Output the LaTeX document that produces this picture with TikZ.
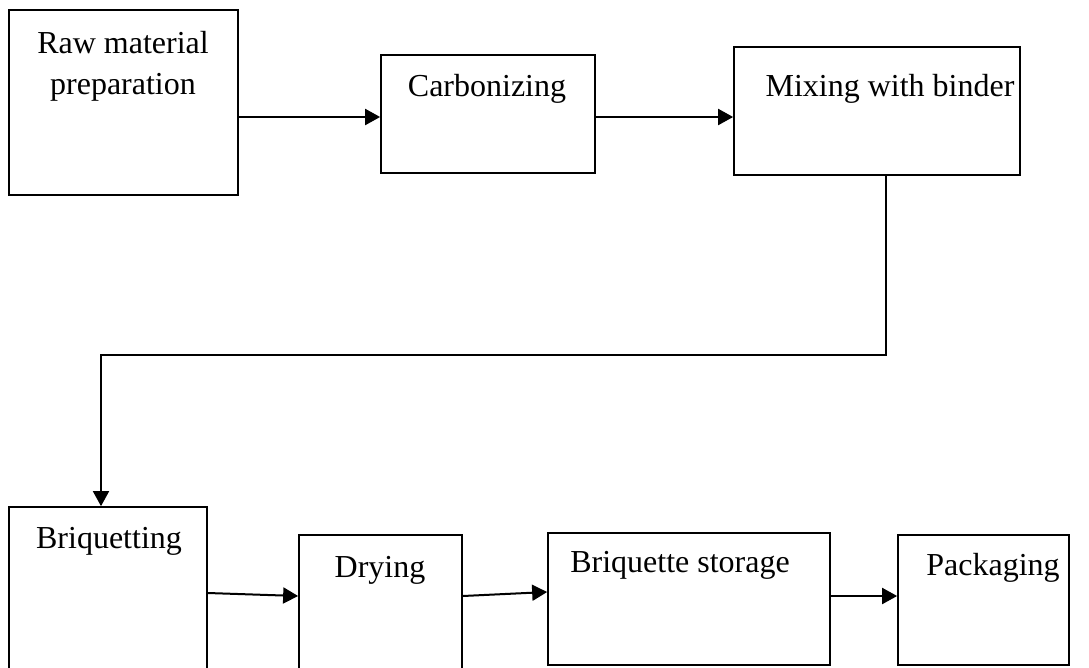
\documentclass[tikz,border=0pt]{standalone}
\usepackage{fontspec}
\setmainfont{Liberation Serif}
\usetikzlibrary{arrows.meta}
\begin{document}
\begin{tikzpicture}[x=1pt,y=-1pt,
  box/.style={draw,line width=1.7pt,inner sep=0pt},
  lbl/.style={inner sep=0pt,font=\fontsize{32}{41}\selectfont},
  flow/.style={line width=2pt,-{Triangle[length=15pt,width=16pt]}}]
\useasboundingbox (0,0) rectangle (1089,667);
\clip (0,0) rectangle (1089,667);
% boxes
\node[box,minimum width=229pt,minimum height=185pt] (raw) at (123.5,102.5) {};
\node[box,minimum width=214pt,minimum height=118pt] (carb) at (488,114) {};
\node[box,minimum width=286pt,minimum height=128pt] (mix) at (877,111) {};
\node[box,minimum width=198pt,minimum height=183pt] (briq) at (108,598.5) {};
\node[box,minimum width=163pt,minimum height=155pt] (dry) at (380.5,612.5) {};
\node[box,minimum width=282pt,minimum height=132pt] (stor) at (689,599) {};
\node[box,minimum width=171pt,minimum height=130pt] (pack) at (983.5,600) {};
% texts
\node[lbl,align=center,anchor=north] (rawt) at (123,31) {Raw material\\preparation};
\node[lbl,anchor=base] (carbt) at (487,96) {Carbonizing};
\node[lbl,anchor=base] (mixt) at (890,96) {Mixing with binder};
\node[lbl,anchor=base] (briqt) at (109,548) {Briquetting};
\node[lbl,anchor=base] (dryt) at (380,577) {Drying};
\node[lbl,anchor=base] (stort) at (680,572) {Briquette storage};
\node[lbl,anchor=base] (packt) at (993,575) {Packaging};
% helper coordinates
\coordinate (r1) at (0,117);
\coordinate (mx) at (886,0);
\coordinate (turn) at (0,355);
\coordinate (bx) at (101,0);
\coordinate (a1) at (0,593);
\coordinate (a2) at (0,596);
\coordinate (a3) at (0,592);
% connectors
\draw[flow] (raw.east |- r1) -- (carb.west |- r1);
\draw[flow] (carb.east |- r1) -- (mix.west |- r1);
\draw[flow,line width=1.7pt] (mix.south -| mx) -- (mx |- turn) -- (bx |- turn) -- (briq.north -| bx);
\draw[flow] (briq.east |- a1) -- (dry.west |- a2);
\draw[flow] (dry.east |- a2) -- (stor.west |- a3);
\draw[flow] (stor.east |- a2) -- (pack.west |- a2);
\end{tikzpicture}
\end{document}
